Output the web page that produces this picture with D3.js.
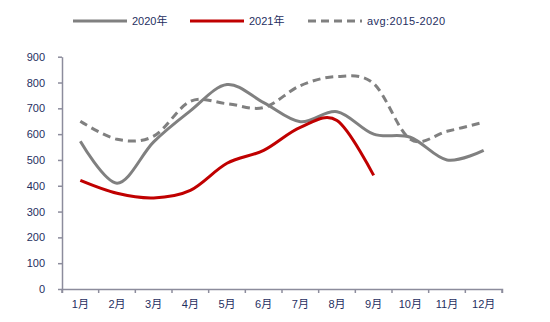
<!DOCTYPE html>
<html><head><meta charset="utf-8">
<script src="https://cdn.jsdelivr.net/npm/d3@7"></script>
<style>body{margin:0;background:#fff}svg{display:block}text{font-family:"Liberation Sans","DejaVu Sans","Noto Sans CJK SC",sans-serif}</style>
</head><body>
<svg id="c" width="550" height="322"></svg>
<script>
const months = ["1月","2月","3月","4月","5月","6月","7月","8月","9月","10月","11月","12月"];
const s2020 = [572, 410, 570, 690, 792, 722, 648, 687, 600, 588, 500, 537];
const s2021 = [421, 371, 353, 382, 487, 537, 626, 653, 440];
const avg = [650, 580, 592, 727, 718, 703, 788, 823, 796, 580, 611, 646];
const yTicks = [0,100,200,300,400,500,600,700,800,900];
const seriesNames = ["2020年","2021年","avg:2015-2020"];

const svg = d3.select("#c");
const x = d3.scaleBand().domain(months).range([62, 502]);
const y = d3.scaleLinear().domain([0, 900]).range([289, 56.7]);
const txt = "#1f2f5f", axc = "#8c8c9c";

const ya = svg.append("g").attr("transform","translate(62,0)")
  .call(d3.axisLeft(y).tickValues(yTicks).tickSize(4).tickSizeOuter(0).tickPadding(13));
const xa = svg.append("g").attr("transform","translate(0,289)")
  .call(d3.axisBottom(x).tickSize(4).tickSizeOuter(4).tickPadding(7));
xa.selectAll(".tick line").remove();
xa.selectAll(".edge").data(d3.range(13)).enter().append("line")
  .attr("x1", i => 62 + i * x.step()).attr("x2", i => 62 + i * x.step())
  .attr("y1", 0).attr("y2", 4).attr("stroke", axc).attr("stroke-width",1.5);
[ya, xa].forEach(g => {
  g.select(".domain").attr("stroke", axc).attr("stroke-width",1.5);
  g.selectAll(".tick line").attr("stroke", axc).attr("stroke-width",1.5);
  g.selectAll("text").attr("fill", txt).attr("font-size", 11);
});

const cx = (d,i) => x(months[i]) + x.bandwidth()/2;
const line = d3.line().x((d,i)=>cx(d,i)).y(d=>y(d)).curve(d3.curveCardinal.tension(0));
svg.append("path").attr("d", line(avg)).attr("fill","none").attr("stroke","#808080")
  .attr("stroke-width",3).attr("stroke-dasharray","8,5");
svg.append("path").attr("d", line(s2020)).attr("fill","none").attr("stroke","#808080").attr("stroke-width",3);
svg.append("path").attr("d", line(s2021)).attr("fill","none").attr("stroke","#c00000").attr("stroke-width",3);

const leg = [
  {name: seriesNames[0], x: 73, color:"#808080", dash:null, ls:0},
  {name: seriesNames[1], x: 190, color:"#c00000", dash:null, ls:0},
  {name: seriesNames[2], x: 308, color:"#808080", dash:"8,5", ls:0.4}
];
leg.forEach(l => {
  svg.append("line").attr("x1", l.x).attr("x2", l.x + 54).attr("y1", 21).attr("y2", 21)
    .attr("stroke", l.color).attr("stroke-width", 3).attr("stroke-dasharray", l.dash);
  svg.append("text").attr("x", l.x + 59).attr("y", 25).attr("fill", txt).attr("font-size", 11)
    .attr("letter-spacing", l.ls).text(l.name);
});
</script>
</body></html>
